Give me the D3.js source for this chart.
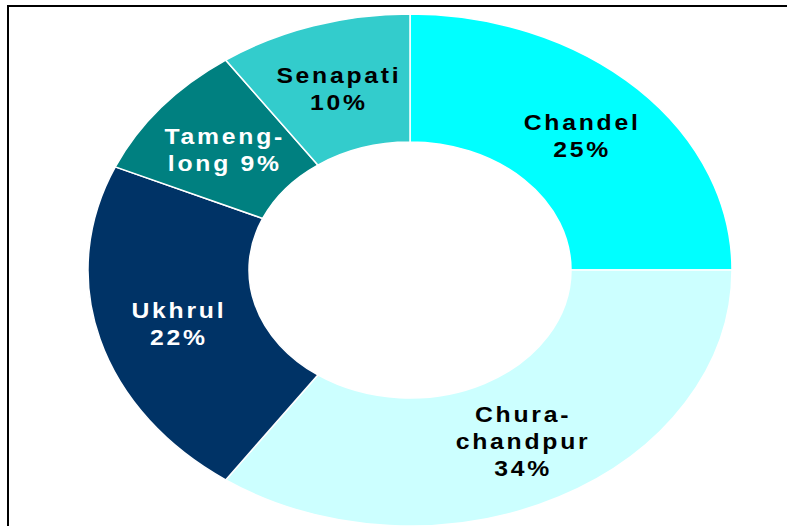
<!DOCTYPE html>
<html>
<head>
<meta charset="utf-8">
<script src="https://cdn.jsdelivr.net/npm/d3@7"></script>
<style>
  html, body { margin: 0; padding: 0; background: #fff; }
  svg { display: block; }
</style>
</head>
<body>
<script>
// ---- data ----
const categories = ["Chandel", "Churachandpur", "Ukhrul", "Tamenglong", "Senapati"];
const values = [25.0, 34.7, 21.9, 8.7, 9.7];
const labelLines = [
  ["Chandel", "25%"],
  ["Chura-", "chandpur", "34%"],
  ["Ukhrul", "22%"],
  ["Tameng-", "long 9%"],
  ["Senapati", "10%"]
];
const colors = ["#00FFFF", "#CCFFFF", "#003366", "#008080", "#33CCCC"];
const textColors = ["#000", "#000", "#fff", "#fff", "#000"];

// ---- layout ----
const W = 787, H = 526;
const cx = 410, cy = 270;
const rx = 322, ry = 256;
const k = ry / rx;
const outerR = rx, innerR = rx * 0.5;

const svg = d3.select("body").append("svg")
  .attr("width", W).attr("height", H);

svg.append("rect")
  .attr("x", 8).attr("y", 6)
  .attr("width", W + 20).attr("height", H + 20)
  .attr("fill", "#fff")
  .attr("stroke", "#000").attr("stroke-width", 2);

const pie = d3.pie().sort(null).value(d => d)(values);
const arc = d3.arc().innerRadius(innerR).outerRadius(outerR);

const g = svg.append("g")
  .attr("transform", `translate(${cx},${cy}) scale(1,${k})`);

g.selectAll("path").data(pie).join("path")
  .attr("d", arc)
  .attr("fill", (d, i) => colors[i])
  .attr("stroke", "#fff")
  .attr("stroke-width", 1.5)
  .attr("vector-effect", "non-scaling-stroke");

const fs = 21.5, sx = 1.15, ls = 2.4, lh = 27;
const labels = svg.append("g");
pie.forEach((d, i) => {
  const c = arc.centroid(d);
  const x = cx + c[0], y = cy + c[1] * k + 1.5;
  const lines = labelLines[i];
  const t = labels.append("g")
    .attr("transform", `translate(${x},${y}) scale(${sx},1)`)
    .append("text")
    .attr("text-anchor", "middle")
    .attr("font-family", "'Liberation Sans', Arial, sans-serif")
    .attr("font-weight", "bold")
    .attr("font-size", fs)
    .attr("letter-spacing", ls)
    .attr("fill", textColors[i]);
  lines.forEach((line, j) => {
    t.append("tspan")
      .attr("x", ls / 2)
      .attr("y", (j - (lines.length - 1) / 2) * lh)
      .attr("dy", "0.36em")
      .text(line);
  });
});
</script>
</body>
</html>
